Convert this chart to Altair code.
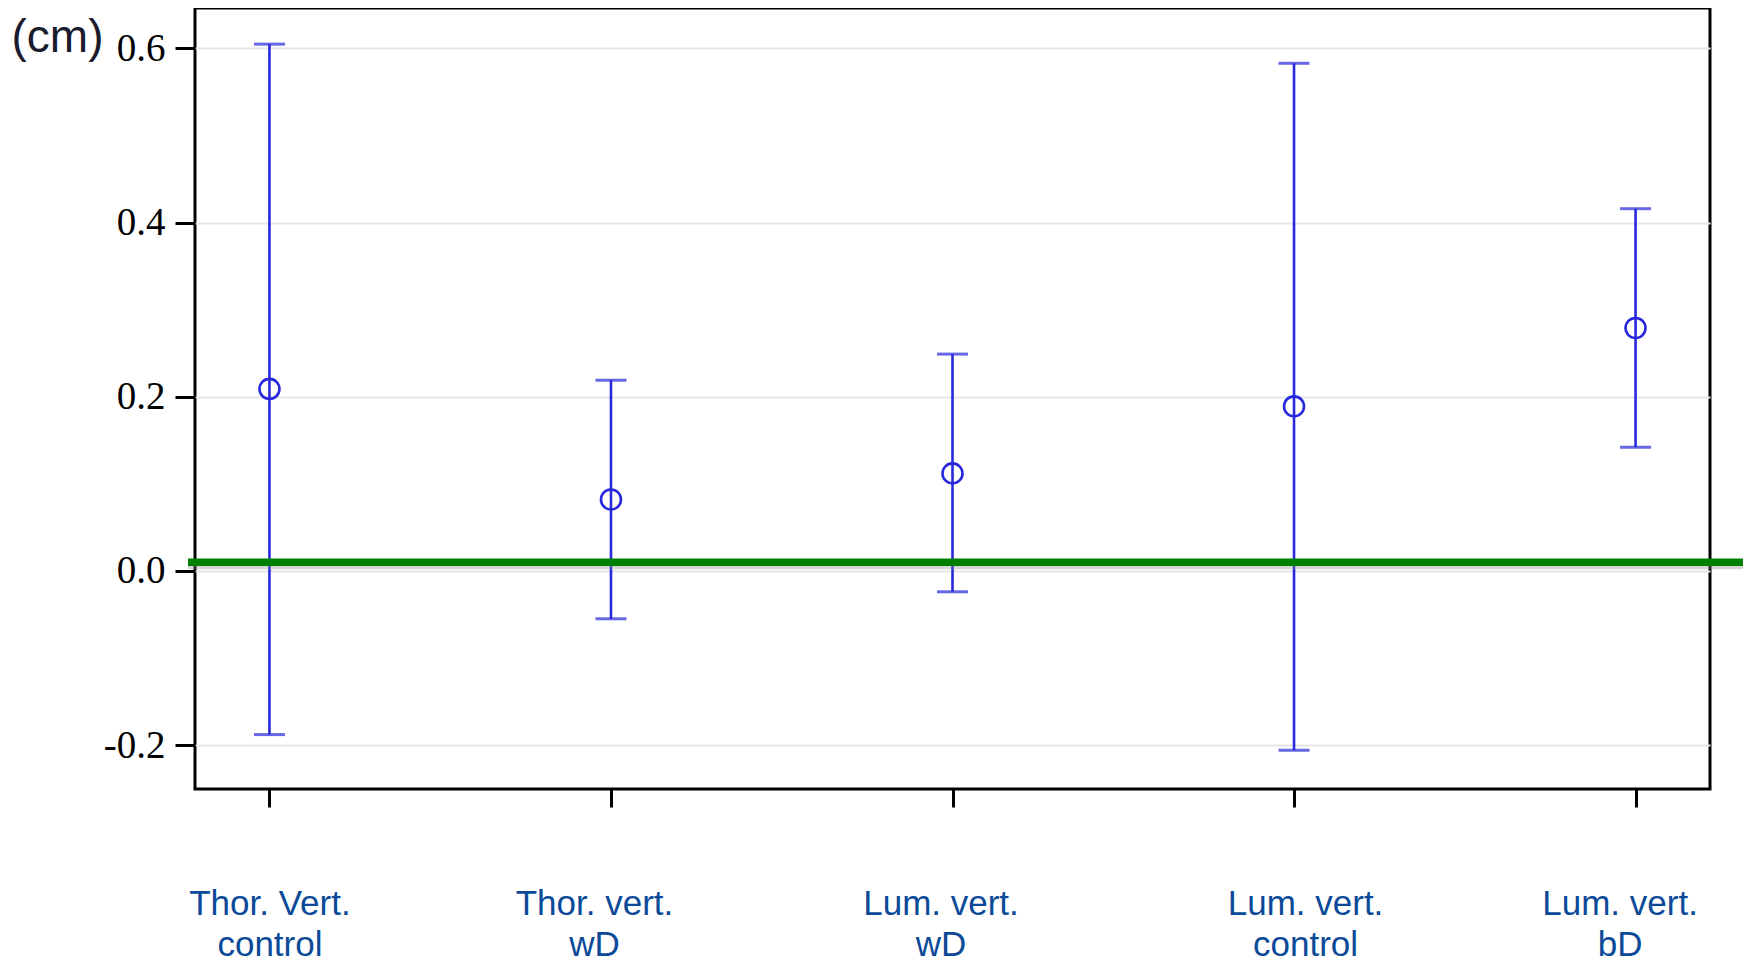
import altair as alt
import pandas as pd

categories = ["Thor. Vert. control", "Thor. vert. wD", "Lum. vert. wD",
              "Lum. vert. control", "Lum. vert. bD"]
means = [0.209, 0.082, 0.112, 0.189, 0.279]
lower = [-0.188, -0.055, -0.024, -0.206, 0.142]
upper = [0.605, 0.219, 0.249, 0.583, 0.416]
reference_value = [0.01]
y_ticks = [-0.2, 0.0, 0.2, 0.4, 0.6]

df = pd.DataFrame({"cat": categories, "mean": means, "lo": lower, "hi": upper})
ref = pd.DataFrame({"v": reference_value})

W, H = 1515, 781
BLUE = "#2828dc"

label_shift = {
    "condition": [
        {"test": "datum.value === 'Thor. vert. wD'", "value": -17},
        {"test": "datum.value === 'Lum. vert. wD'", "value": -12},
        {"test": "datum.value === 'Lum. vert. control'", "value": 11},
        {"test": "datum.value === 'Lum. vert. bD'", "value": -16},
    ],
    "value": 0,
}

x_enc = alt.X("cat:N", sort=categories,
              scale=alt.Scale(type="point", padding=0.218),
              axis=alt.Axis(
                  title=None, labelAngle=0, domain=False, grid=False,
                  tickSize=18, tickWidth=3, tickColor="black",
                  labelFont="Liberation Sans", labelFontSize=35,
                  labelColor="#0b4a99", labelPadding=96, labelLineHeight=41,
                  labelBaseline="middle", labelOffset=label_shift,
                  labelExpr="[slice(datum.label, 0, lastindexof(datum.label, ' ')), slice(datum.label, lastindexof(datum.label, ' ') + 1)]",
              ))

y_scale = alt.Scale(domain=[-0.2505, 0.6465], nice=False, zero=False)
y_axis = alt.Axis(
    title="(cm)", titleAngle=0, titleX=-184, titleY=29, titleAlign="left",
    titleBaseline="middle", titleFont="Liberation Sans", titleFontSize=46,
    titleFontWeight="normal", titleColor="#1b1b2e",
    values=y_ticks, domain=False, grid=True, gridColor="#e6e6e6", gridWidth=2,
    tickSize=20, tickWidth=3, tickColor="black",
    labelFont="Liberation Serif", labelFontSize=39, labelColor="black",
    labelPadding=10,
    labelExpr="datum.value < 0 ? '-' + format(-datum.value, '.1f') : format(datum.value, '.1f')",
)

base = alt.Chart(df)

bars = base.mark_rule(color=BLUE, strokeWidth=2.6).encode(
    x=x_enc,
    y=alt.Y("lo:Q", scale=y_scale, axis=y_axis),
    y2="hi:Q",
)
cap_lo = base.mark_tick(color=BLUE, orient="horizontal", size=31, thickness=3).encode(
    x=alt.X("cat:N", sort=categories), y="lo:Q")
cap_hi = base.mark_tick(color=BLUE, orient="horizontal", size=31, thickness=3).encode(
    x=alt.X("cat:N", sort=categories), y="hi:Q")
pts = base.mark_point(shape="circle", filled=False, color=BLUE, size=400,
                      strokeWidth=2.6, opacity=1).encode(
    x=alt.X("cat:N", sort=categories), y="mean:Q")

shadow = alt.Chart(ref).mark_rule(color="#888888", strokeWidth=6, opacity=0.35,
                                  yOffset=4).encode(
    y="v:Q", x=alt.value(-7), x2=alt.value(W + 33))
green = alt.Chart(ref).mark_rule(color="#008000", strokeWidth=7.5).encode(
    y="v:Q", x=alt.value(-7), x2=alt.value(W + 33))

chart = alt.layer(bars, cap_lo, cap_hi, pts, shadow, green).properties(
    width=W, height=H,
    autosize=alt.AutoSizeParams(type="none"),
    padding={"left": 187, "top": 0, "right": 33, "bottom": 176},
    background="white",
).configure_view(stroke="black", strokeWidth=3)

chart.save("out.html", embed_options={"renderer": "svg", "actions": False})
